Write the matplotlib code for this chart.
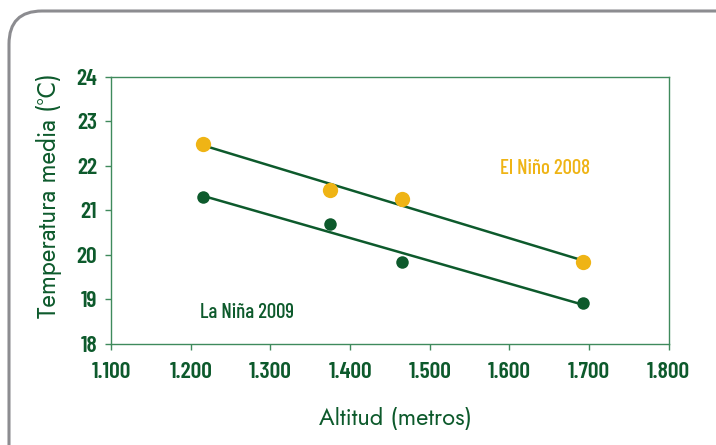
import matplotlib
matplotlib.use("Agg")
import numpy as np
import matplotlib.pyplot as plt
import matplotlib.patches as mpatches
from matplotlib import font_manager
from matplotlib.transforms import IdentityTransform
from matplotlib.ticker import FuncFormatter

# ------------------------------------------------------------
# Data: mean temperature vs altitude
# ------------------------------------------------------------
altitud = [1215, 1375, 1465, 1693]
temp_nino_2008 = [22.5, 21.45, 21.25, 19.85]
temp_nina_2009 = [21.3, 20.7, 19.85, 18.92]

x_ticks = [1100, 1200, 1300, 1400, 1500, 1600, 1700, 1800]
y_ticks = [18, 19, 20, 21, 22, 23, 24]

GREEN = "#0d5a2c"
AXIS_GREEN = "#3f8a5c"
YELLOW = "#efb415"

installed = {f.name for f in font_manager.fontManager.ttflist}


def first_font(cands):
    return next((f for f in cands if f in installed), "DejaVu Sans")


# narrow face for numbers and series names, geometric face for axis titles
narrow = first_font(["Barlow Condensed", "Roboto Condensed", "Archivo Narrow",
                     "IBM Plex Sans Condensed", "Open Sans Condensed",
                     "Liberation Sans Narrow"])
label_font = first_font(["Jost", "Futura", "Questrial", "Lato"])

fig = plt.figure(figsize=(7.16, 4.45), dpi=100, facecolor="white")

# rounded gray frame (runs off the right and bottom edges)
frame = mpatches.FancyBboxPatch(
    (9, -60), 800, 434 + 60,
    boxstyle="round,pad=0,rounding_size=33",
    transform=IdentityTransform(),
    facecolor="none", edgecolor="#8c8c90", linewidth=2.2,
)
fig.add_artist(frame)

ax = fig.add_axes([0.155, 0.227, 0.779, 0.600])

# trend lines over the data range
for temps in (temp_nino_2008, temp_nina_2009):
    m, b = np.polyfit(altitud, temps, 1)
    xs = np.array([altitud[0], altitud[-1]])
    ax.plot(xs, m * xs + b, color=GREEN, lw=1.8, zorder=2)

ax.plot(altitud, temp_nino_2008, "o", color=YELLOW, ms=11, mec="none", zorder=3)
ax.plot(altitud, temp_nina_2009, "o", color=GREEN, ms=9, mec="none", zorder=3)

ax.text(1645, 21.95, "El Niño 2008", color=YELLOW, fontsize=15,
        family=narrow, weight="medium", ha="center", va="center")
ax.text(1271, 18.7, "La Niña 2009", color=GREEN, fontsize=15,
        family=narrow, weight="medium", ha="center", va="center")

ax.set_xlim(1100, 1800)
ax.set_ylim(18, 24)
ax.set_xticks(x_ticks)
ax.set_yticks(y_ticks)
ax.xaxis.set_major_formatter(FuncFormatter(lambda v, p: f"{v/1000:.3f}"))

for s in ax.spines.values():
    s.set_color(AXIS_GREEN)
    s.set_linewidth(1.0)

ax.tick_params(direction="out", length=4, width=1, color=AXIS_GREEN,
               labelcolor=GREEN, labelsize=17)
ax.tick_params(axis="x", pad=9)
ax.tick_params(axis="y", pad=6)
for lab in ax.get_xticklabels() + ax.get_yticklabels():
    lab.set_family(narrow)
    lab.set_weight("semibold")

ax.set_ylabel("Temperatura media (°C)", color=GREEN, fontsize=17.5,
              family=label_font, weight="semibold")
ax.set_xlabel("Altitud (metros)", color=GREEN, fontsize=17,
              family=label_font, weight="semibold")
ax.yaxis.set_label_coords(-0.088, 0.557)
ax.xaxis.set_label_coords(0.51, -0.235)

fig.savefig("out.png", dpi=100, facecolor="white")
